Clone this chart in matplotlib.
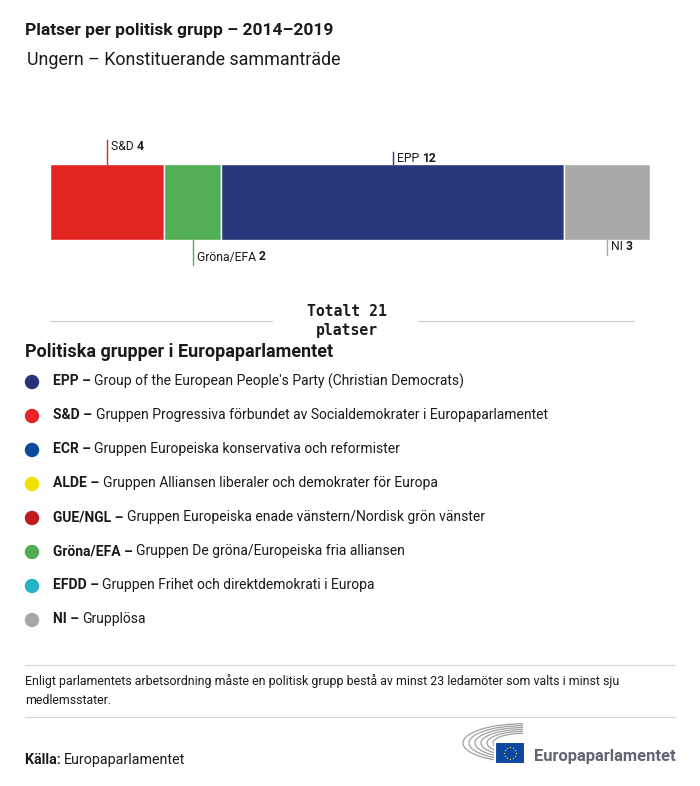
import matplotlib
matplotlib.use("Agg")
import matplotlib.pyplot as plt
from matplotlib.patches import Circle, Rectangle, Arc
import numpy as np

plt.rcParams['font.family'] = ['Roboto', 'DejaVu Sans']

# data
groups = ["S&D", "Gröna/EFA", "EPP", "NI"]
seats = [4, 2, 12, 3]
bar_colors = ["#E32522", "#52AE55", "#28367B", "#A9A9A9"]
label_above = [True, False, True, False]

legend_keys = ["EPP", "S&D", "ECR", "ALDE", "GUE/NGL", "Gröna/EFA", "EFDD", "NI"]
legend_names = [
	"Group of the European People's Party (Christian Democrats)",
	"Gruppen Progressiva förbundet av Socialdemokrater i Europaparlamentet",
	"Gruppen Europeiska konservativa och reformister",
	"Gruppen Alliansen liberaler och demokrater för Europa",
	"Gruppen Europeiska enade vänstern/Nordisk grön vänster",
	"Gruppen De gröna/Europeiska fria alliansen",
	"Gruppen Frihet och direktdemokrati i Europa",
	"Grupplösa",
]
legend_colors = ["#283479", "#E8262A", "#0A4A9C", "#F0E100", "#C2191E", "#52AE55", "#25B5C6", "#A9A9A9"]

W, H = 700, 786
fig = plt.figure(figsize=(W / 100, H / 100), dpi=100)
ax = fig.add_axes([0, 0, 1, 1])
ax.set_xlim(0, W)
ax.set_ylim(H, 0)
ax.axis('off')

txt = "#1a1a1a"


def text_after(x, y, first, second, size, **kw):
	# bold piece followed by regular piece on one line
	t = ax.text(x, y, first, fontsize=size, fontweight='bold', color=txt, va='center', **kw)
	fig.canvas.draw()
	bb = t.get_window_extent()
	xe = ax.transData.inverted().transform((bb.x1, bb.y0))[0]
	ax.text(xe, y, second, fontsize=size, color=txt, va='center', **kw)


ax.text(25, 30, "Platser per politisk grupp – 2014–2019", fontsize=12.5, fontweight='bold', color=txt, va='center')
ax.text(27, 60, "Ungern – Konstituerande sammanträde", fontsize=12.9, color=txt, va='center')

# stacked bar, scaled to the 600px width
total = sum(seats)
scale = 600 / total
lefts = 50 + np.concatenate([[0], np.cumsum(seats)[:-1]]) * scale
widths = np.array(seats) * scale
ax.barh([202], widths, left=lefts, height=76, color=bar_colors, edgecolor='white', linewidth=1)

for g, s, l, w, c, up in zip(groups, seats, lefts, widths, bar_colors, label_above):
	cx = l + w / 2
	if up:
		top = 140 if g == "S&D" else 152
		ax.plot([cx, cx], [top, 164], color=c, lw=1)
		ty = top + 6
	else:
		bot = 265 if g == "Gröna/EFA" else 255
		ax.plot([cx, cx], [240, bot], color=c, lw=1)
		ty = bot - 8
	t = ax.text(cx + 4, ty, g + " ", fontsize=8.7, color=txt, va='center')
	fig.canvas.draw()
	bb = t.get_window_extent()
	xe = ax.transData.inverted().transform((bb.x1, bb.y0))[0]
	ax.text(xe, ty, str(s), fontsize=8.7, fontweight='bold', color=txt, va='center')

# total
ax.plot([50, 272], [321, 321], color="#cccccc", lw=0.8)
ax.plot([418, 634], [321, 321], color="#cccccc", lw=0.8)
ax.text(347, 321, f"Totalt {total}\nplatser", fontsize=10.6, fontweight='bold', family='DejaVu Sans Mono',
	ha='center', va='center', color=txt, linespacing=1.25)

# legend
ax.text(25, 352, "Politiska grupper i Europaparlamentet", fontsize=13, fontweight='bold', color=txt, va='center')
for i, (k, n, c) in enumerate(zip(legend_keys, legend_names, legend_colors)):
	y = 381 + i * 34
	ax.add_patch(Circle((32, y + 1), 6.5, color=c))
	text_after(53, y, k + " – ", n, 10)

# footnote
ax.plot([25, 675], [665, 665], color="#d5d5d5", lw=0.8)
ax.plot([25, 675], [717, 717], color="#d5d5d5", lw=0.8)
ax.text(25, 681, "Enligt parlamentets arbetsordning måste en politisk grupp bestå av minst 23 ledamöter som valts i minst sju",
	fontsize=8.9, color=txt, va='center')
ax.text(25, 700, "medlemsstater.", fontsize=8.9, color=txt, va='center')

text_after(25, 760, "Källa: ", "Europaparlamentet", 10.3)

# logo: hemicycle + flag
for r in [30, 36, 42, 48, 54, 60]:
	ax.add_patch(Arc((523, 743), r * 2, r * 0.64, theta1=90, theta2=270, color="#a0a0a0", lw=0.9))
ax.add_patch(Rectangle((495, 742), 30, 22, facecolor="#0E47A1", edgecolor='white', lw=1.5, zorder=3))
for a in np.linspace(0, 2 * np.pi, 12, endpoint=False):
	ax.plot(510 + 6 * np.cos(a), 753 + 6 * np.sin(a), marker='*', ms=1.6, color="#FFDD00", mec='none', zorder=4)
ax.text(534, 757, "Europaparlamentet", fontsize=11.9, fontweight='bold', color="#5f6670", va='center')

fig.savefig("out.png", dpi=100)
